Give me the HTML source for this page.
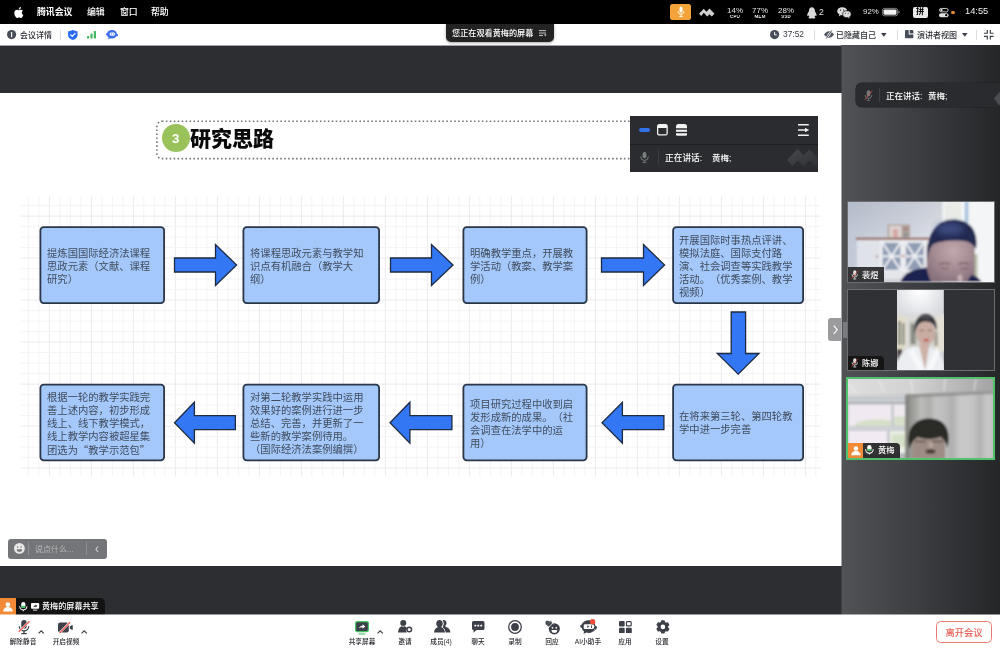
<!DOCTYPE html>
<html lang="zh-CN">
<head>
<meta charset="utf-8">
<title>腾讯会议</title>
<style>
*{box-sizing:border-box;margin:0;padding:0}
html,body{width:1000px;height:650px;overflow:hidden;background:#2d2e32}
body{position:relative;font-family:"Liberation Sans","Noto Sans CJK SC",sans-serif;color:#222;-webkit-font-smoothing:antialiased}
.abs{position:absolute}
.t{position:absolute;white-space:nowrap;line-height:1;will-change:transform}
.box>div{will-change:transform;position:relative}
svg{position:absolute;overflow:visible}
.cjk{font-family:"Noto Sans CJK SC",sans-serif}

/* ---------- mac menubar ---------- */
#menubar{position:absolute;left:0;top:0;width:1000px;height:24px;background:#000}
#menubar .t{color:#fff;font-size:8.900px;top:8.200px}
#menubar .st{font-size:7.9px;top:6.6px;color:#e8e8e8;transform:translateX(-50%)}
#menubar .sm{font-size:9.2px;top:12px;color:#e6e6e6;transform:translateX(-50%) scale(.5);font-weight:700;letter-spacing:.3px}
/* ---------- meeting top toolbar ---------- */
#topbar{position:absolute;left:0;top:24px;width:1000px;height:22px;background:linear-gradient(to bottom,#fff 0,#fff 21px,#a2a3a5 21px,#a2a3a5 22px)}
#topbar .t{font-size:8px;font-weight:500;color:#2b2d33;top:7.500px}
.vsep{position:absolute;width:1px;background:#dcdde0}
/* ---------- slide ---------- */
#slide{position:absolute;left:0;top:93px;width:841px;height:473px;background:#fff;overflow:hidden}
.box{position:absolute;display:flex;align-items:center;
 padding-left:7.2px;font-size:10.32px;line-height:13px;color:#414c5f;white-space:nowrap;text-spacing-trim:space-all}
/* ---------- sidebar ---------- */
#side{position:absolute;left:841px;top:45px;width:159px;height:569px;
 background:linear-gradient(to right,#525357 0,#494a4e 20%,#3c3d41 50%,#2e2f32 80%,#252628 100%)}
#seam{position:absolute;left:841px;top:46px;width:1px;height:568px;background:linear-gradient(to bottom,#404145 0,#404145 47px,#a8a9ab 47px,#a8a9ab 520px,#404145 520px)}
.tile{position:absolute;left:6px;width:148px;overflow:hidden;background:#303135;border:1px solid #6d6e72}
.nm{position:absolute;left:0;bottom:0;height:14.2px;font-weight:500;background:rgba(20,20,20,.88);border-top-right-radius:4px;color:#fff;font-size:8.2px}
/* ---------- bottom toolbar ---------- */
#bottombar{position:absolute;left:0;top:614px;width:1000px;height:36px;background:#fff}
#bottombar .t{font-size:6.7px;font-weight:500;color:#24262b;top:24.7px;transform:translateX(-50%)}
</style>
</head>
<body>

<!-- ================= macOS menubar ================= -->
<div id="menubar">
  <svg style="left:13.5px;top:6.5px" width="9.6" height="11" viewBox="0 0 814 1000"><path fill="#fff" d="M788 341c-6 4-108 62-108 190 0 148 130 201 134 202-1 3-21 72-69 143-43 62-88 124-157 124s-86-40-165-40c-77 0-105 41-168 41s-107-57-157-128C40 790 0 664 0 544c0-192 125-294 248-294 65 0 120 43 161 43 39 0 100-46 174-46 28 0 129 3 205 94zM554 159c31-37 53-88 53-139 0-7-1-14-2-20-50 2-110 33-146 75-28 32-55 83-55 135 0 8 1 16 2 18 3 1 8 2 13 2 45 0 102-30 135-71z"/></svg>
  <span class="t" style="left:36.5px;font-weight:700">腾讯会议</span>
  <span class="t" style="left:87px;font-weight:500">编辑</span>
  <span class="t" style="left:119.5px;font-weight:500">窗口</span>
  <span class="t" style="left:151px;font-weight:500">帮助</span>

  <!-- orange mic -->
  <div class="abs" style="left:670px;top:4px;width:21px;height:16px;border-radius:2.5px;background:#f2a43a"></div>
  <svg style="left:676.5px;top:6.3px" width="8" height="11.5" viewBox="0 0 16 23"><rect x="5" y="1" width="6" height="12" rx="3" fill="#fff"/><path d="M2 10.5a6 6 0 0 0 12 0" fill="none" stroke="#fff" stroke-width="1.7"/><path d="M8 16.5v4M4.5 21h7" stroke="#fff" stroke-width="1.7" fill="none"/></svg>
  <!-- mountain logo -->
  <svg style="left:699px;top:7.6px" width="15.5" height="8.8" viewBox="0 0 31 17.6"><path fill="#cfcfcf" d="M0 11.5 9.5 1.5 15 7.5 21 1 31 11.5 25.5 17 21 12.5 16.5 17 9.5 9.5 4.5 16z"/></svg>
  <span class="t st" style="left:735.2px">14%</span><span class="t sm" style="left:735.2px">CPU</span>
  <span class="t st" style="left:760.2px">77%</span><span class="t sm" style="left:760.2px">MEM</span>
  <span class="t st" style="left:785.5px">28%</span><span class="t sm" style="left:785.5px">SSD</span>
  <!-- QQ penguin -->
  <svg style="left:807.3px;top:6.6px" width="9.8" height="11.6" viewBox="0 0 20 23"><path fill="#d9d9d9" d="M10 0C6.2 0 4 2.8 4 6.6c0 .9 0 1.700-.3 2.500C2.300 11.300.5 14.200.5 16.700c0 1.300.5 1.800 1 1.700.6-.1 1.300-1.200 1.700-1.900.3 1.200.9 2.300 1.700 3.200-1 .4-1.900 1-1.900 1.800 0 1.100 1.900 1.500 4 1.500 1.300 0 2.400-.2 3-.6.600.4 1.700.6 3 .6 2.100 0 4-.4 4-1.500 0-.8-.9-1.400-1.900-1.800.8-.9 1.400-2 1.700-3.200.4.700 1.100 1.800 1.700 1.900.5.100 1-.4 1-1.700 0-2.500-1.800-5.400-3.200-7.600-.3-.8-.3-1.600-.3-2.500C16 2.800 13.800 0 10 0z"/></svg>
  <span class="t" style="left:819.3px;top:7.5px;font-size:8.6px;color:#e4e4e4">2</span>
  <!-- wechat -->
  <svg style="left:837px;top:6.8px" width="14.4" height="11.4" viewBox="0 0 29 23"><ellipse cx="10.5" cy="8.500" rx="10" ry="8.200" fill="#dcdcdc"/><path d="M4.500 14.500 3.500 19l4.500-2.800z" fill="#dcdcdc"/><ellipse cx="20" cy="14.500" rx="8.500" ry="7" fill="#dcdcdc" stroke="#000" stroke-width="1.400"/><path d="M24.500 20l1.200 3-3.800-2z" fill="#dcdcdc"/><circle cx="7" cy="6.300" r="1.200" fill="#000"/><circle cx="13.500" cy="6.300" r="1.200" fill="#000"/><circle cx="17.200" cy="12.800" r="1" fill="#000"/><circle cx="22.600" cy="12.800" r="1" fill="#000"/></svg>
  <span class="t" style="left:862.6px;top:8.2px;font-size:7.9px;color:#e6e6e6">92%</span>
  <!-- battery -->
  <svg style="left:881.8px;top:8.2px" width="18" height="8.200" viewBox="0 0 36 16.400"><rect x=".8" y=".8" width="30.500" height="14.800" rx="4" fill="none" stroke="#9a9a9a" stroke-width="1.600"/><rect x="3" y="3" width="26" height="10.400" rx="2.200" fill="#f2f2f2"/><path d="M33 5.500c1.600.4 2.400 1.400 2.400 2.700s-.8 2.300-2.400 2.700z" fill="#9a9a9a"/></svg>
  <!-- input method -->
  <div class="abs" style="left:913px;top:7px;width:15px;height:10.500px;border-radius:2px;background:#e9e9e9"></div>
  <span class="t" style="left:916.4px;top:8.100px;font-size:8.200px;color:#000;font-weight:700">拼</span>
  <!-- control centre -->
  <svg style="left:938.8px;top:7.600px" width="9.600" height="9.200" viewBox="0 0 19.200 18.400"><rect x=".9" y=".9" width="17.400" height="6.800" rx="3.400" fill="none" stroke="#e0e0e0" stroke-width="1.800"/><circle cx="5" cy="4.300" r="2.300" fill="#e0e0e0"/><rect x="0" y="10.400" width="19.200" height="8" rx="4" fill="#e0e0e0"/><circle cx="14.600" cy="14.400" r="2.300" fill="#000"/></svg>
  <div class="abs" style="left:951.3px;top:10.500px;width:3.400px;height:3.400px;border-radius:50%;background:#e8902c"></div>
  <span class="t" style="left:964.5px;top:7.400px;font-size:9.300px;color:#f0f0f0">14:55</span>
</div>

<!-- ================= top toolbar ================= -->
<div id="topbar">
  <!-- info -->
  <svg style="left:6.800px;top:6.200px" width="9.200" height="9.200" viewBox="0 0 18 18"><circle cx="9" cy="9" r="9" fill="#474c59"/><rect x="7.800" y="3.800" width="2.400" height="10.400" rx="1" fill="#fff"/></svg>
  <span class="t" style="left:20px">会议详情</span>
  <div class="vsep" style="left:60px;top:6px;height:9.500px"></div>
  <!-- shield -->
  <svg style="left:68px;top:5.800px" width="9.600" height="10" viewBox="0 0 19 20"><path d="M9.500 0 19 2.800v7.700c0 4.600-3.800 7.800-9.500 9.500C3.800 18.300 0 15.100 0 10.500V2.800z" fill="#2c6cf2"/><path d="M5.200 9.600 8.500 12.800 14 6.800" fill="none" stroke="#fff" stroke-width="2.300" stroke-linecap="round" stroke-linejoin="round"/></svg>
  <!-- signal -->
  <svg style="left:87px;top:7px" width="9" height="7.600" viewBox="0 0 18 15"><rect x="0" y="10" width="4.400" height="5" rx=".8" fill="#43b864"/><rect x="6.800" y="5" width="4.400" height="10" rx=".8" fill="#43b864"/><rect x="13.600" y="0" width="4.400" height="15" rx=".8" fill="#43b864"/></svg>
  <!-- robot -->
  <svg style="left:106px;top:5.800px" width="12" height="9.600" viewBox="0 0 24 19"><path d="M12 0c5.300 0 9.300 3.300 9.700 7.600 1.400.2 2.300 1.200 2.300 2.500 0 1.500-1.100 2.600-2.700 2.600-.3 0-.600 0-.9-.1C18.800 15.400 15.700 17 12 17c-1.400 0-2.700-.2-3.900-.6L4.500 19l.5-4.100C3.600 13.800 2.700 12.500 2.400 11 1 10.800 0 9.700 0 8.400 0 7 1 6 2.400 5.800 3.300 2.400 7.200 0 12 0z" fill="#3a6cf0"/><rect x="7" y="4.800" width="11.500" height="6.600" rx="3.300" fill="#fff"/><path d="M10.300 6.300v3.600L13 8.100z" fill="#3a6cf0"/><circle cx="15.500" cy="8.100" r="1.100" fill="#3a6cf0"/></svg>
  <!-- centre pill -->
  <div class="abs" style="left:446px;top:0;width:108px;height:17.500px;background:#232323;border-radius:0 0 5px 5px;box-shadow:0 1px 3px rgba(0,0,0,.35)"></div>
  <span class="t" style="left:451.600px;top:6.100px;font-size:8.150px;font-weight:500;color:#fff">您正在观看黄梅的屏幕</span>
  <svg style="left:539px;top:5.600px" width="7.500" height="6.600" viewBox="0 0 15 13"><path d="M0 1.200h14M0 6h14M0 10.800h8" stroke="#e8e8e8" stroke-width="1.700" fill="none"/><path d="M10 8.800h5l-2.500 3.600z" fill="#e8e8e8"/></svg>
  <!-- clock -->
  <svg style="left:770px;top:6px" width="9.200" height="9.200" viewBox="0 0 18 18"><circle cx="9" cy="9" r="9" fill="#474c59"/><path d="M9 4v5.500h4.200" fill="none" stroke="#fff" stroke-width="1.900"/></svg>
  <span class="t" style="left:782.600px;top:6.400px;font-size:8.400px;color:#3a3d45">37:52</span>
  <div class="vsep" style="left:813.500px;top:6px;height:9.500px"></div>
  <!-- eye slash -->
  <svg style="left:823.500px;top:6.200px" width="10" height="9" viewBox="0 0 20 18"><path d="M1 9c2-3.600 5.200-5.600 9-5.600S17 5.400 19 9c-2 3.600-5.200 5.600-9 5.600S3 12.600 1 9z" fill="#474c59" stroke="#474c59" stroke-width="1.600"/><circle cx="10" cy="9" r="2.600" fill="none" stroke="#fff" stroke-width="1.100"/><path d="M15.500 1 4.500 17" stroke="#fff" stroke-width="4"/><path d="M15.500 1 4.500 17" stroke="#474c59" stroke-width="2"/></svg>
  <span class="t" style="left:836.200px">已隐藏自己</span>
  <svg style="left:880.600px;top:8.600px" width="5.600" height="3.800" viewBox="0 0 11 7.500"><path d="M0 0h11L5.500 7.500z" fill="#3a3d45"/></svg>
  <div class="vsep" style="left:896.500px;top:6px;height:9.500px"></div>
  <!-- layout icon -->
  <svg style="left:904.700px;top:6.300px" width="8.400" height="8.200" viewBox="0 0 17 16.500"><path d="M2 0h5.500v9H17v5.500a2 2 0 0 1-2 2H2a2 2 0 0 1-2-2V2a2 2 0 0 1 2-2z" fill="#474c59"/><path d="M9.500 0H15a2 2 0 0 1 2 2v5H9.500z" fill="#474c59"/></svg>
  <span class="t" style="left:917.200px">演讲者视图</span>
  <svg style="left:961.500px;top:8.600px" width="5.600" height="3.800" viewBox="0 0 11 7.500"><path d="M0 0h11L5.500 7.500z" fill="#3a3d45"/></svg>
  <div class="vsep" style="left:975.500px;top:6px;height:9.500px"></div>
  <!-- exit fullscreen -->
  <svg style="left:983.700px;top:5.700px" width="9.600" height="9.600" viewBox="0 0 19 19"><path d="M0 6.500h6.500V0M12.500 0v6.500H19M19 12.500h-6.500V19M6.500 19v-6.500H0" fill="none" stroke="#3a3d45" stroke-width="2.300"/></svg>
</div>

<!-- ================= slide ================= -->
<div id="slide">
  <svg id="grid" style="left:0;top:0" width="841" height="473" stroke-width="1" fill="none"><path d="M28.4 103V383.500" stroke="#f4f4f6"/><path d="M38.9 103V383.500" stroke="#f4f4f6"/><path d="M49.4 103V383.500" stroke="#ebebee"/><path d="M59.9 103V383.500" stroke="#f4f4f6"/><path d="M70.4 103V383.500" stroke="#f4f4f6"/><path d="M80.9 103V383.500" stroke="#f4f4f6"/><path d="M91.4 103V383.500" stroke="#ebebee"/><path d="M101.9 103V383.500" stroke="#f4f4f6"/><path d="M112.4 103V383.500" stroke="#f4f4f6"/><path d="M122.9 103V383.500" stroke="#f4f4f6"/><path d="M133.4 103V383.500" stroke="#ebebee"/><path d="M143.9 103V383.500" stroke="#f4f4f6"/><path d="M154.4 103V383.500" stroke="#f4f4f6"/><path d="M164.9 103V383.500" stroke="#f4f4f6"/><path d="M175.4 103V383.500" stroke="#ebebee"/><path d="M185.9 103V383.500" stroke="#f4f4f6"/><path d="M196.4 103V383.500" stroke="#f4f4f6"/><path d="M206.9 103V383.500" stroke="#f4f4f6"/><path d="M217.4 103V383.500" stroke="#ebebee"/><path d="M227.9 103V383.500" stroke="#f4f4f6"/><path d="M238.4 103V383.500" stroke="#f4f4f6"/><path d="M248.9 103V383.500" stroke="#f4f4f6"/><path d="M259.4 103V383.500" stroke="#ebebee"/><path d="M269.9 103V383.500" stroke="#f4f4f6"/><path d="M280.4 103V383.500" stroke="#f4f4f6"/><path d="M290.9 103V383.500" stroke="#f4f4f6"/><path d="M301.4 103V383.500" stroke="#ebebee"/><path d="M311.9 103V383.500" stroke="#f4f4f6"/><path d="M322.4 103V383.500" stroke="#f4f4f6"/><path d="M332.9 103V383.500" stroke="#f4f4f6"/><path d="M343.4 103V383.500" stroke="#ebebee"/><path d="M353.9 103V383.500" stroke="#f4f4f6"/><path d="M364.4 103V383.500" stroke="#f4f4f6"/><path d="M374.9 103V383.500" stroke="#f4f4f6"/><path d="M385.4 103V383.500" stroke="#ebebee"/><path d="M395.9 103V383.500" stroke="#f4f4f6"/><path d="M406.4 103V383.500" stroke="#f4f4f6"/><path d="M416.9 103V383.500" stroke="#f4f4f6"/><path d="M427.4 103V383.500" stroke="#ebebee"/><path d="M437.9 103V383.500" stroke="#f4f4f6"/><path d="M448.4 103V383.500" stroke="#f4f4f6"/><path d="M458.9 103V383.500" stroke="#f4f4f6"/><path d="M469.4 103V383.500" stroke="#ebebee"/><path d="M479.9 103V383.500" stroke="#f4f4f6"/><path d="M490.4 103V383.500" stroke="#f4f4f6"/><path d="M500.9 103V383.500" stroke="#f4f4f6"/><path d="M511.4 103V383.500" stroke="#ebebee"/><path d="M521.9 103V383.500" stroke="#f4f4f6"/><path d="M532.4 103V383.500" stroke="#f4f4f6"/><path d="M542.9 103V383.500" stroke="#f4f4f6"/><path d="M553.4 103V383.500" stroke="#ebebee"/><path d="M563.9 103V383.500" stroke="#f4f4f6"/><path d="M574.4 103V383.500" stroke="#f4f4f6"/><path d="M584.9 103V383.500" stroke="#f4f4f6"/><path d="M595.4 103V383.500" stroke="#ebebee"/><path d="M605.9 103V383.500" stroke="#f4f4f6"/><path d="M616.4 103V383.500" stroke="#f4f4f6"/><path d="M626.9 103V383.500" stroke="#f4f4f6"/><path d="M637.4 103V383.500" stroke="#ebebee"/><path d="M647.9 103V383.500" stroke="#f4f4f6"/><path d="M658.4 103V383.500" stroke="#f4f4f6"/><path d="M668.9 103V383.500" stroke="#f4f4f6"/><path d="M679.4 103V383.500" stroke="#ebebee"/><path d="M689.9 103V383.500" stroke="#f4f4f6"/><path d="M700.4 103V383.500" stroke="#f4f4f6"/><path d="M710.9 103V383.500" stroke="#f4f4f6"/><path d="M721.4 103V383.500" stroke="#ebebee"/><path d="M731.9 103V383.500" stroke="#f4f4f6"/><path d="M742.4 103V383.500" stroke="#f4f4f6"/><path d="M752.9 103V383.500" stroke="#f4f4f6"/><path d="M763.4 103V383.500" stroke="#ebebee"/><path d="M773.9 103V383.500" stroke="#f4f4f6"/><path d="M784.4 103V383.500" stroke="#f4f4f6"/><path d="M794.9 103V383.500" stroke="#f4f4f6"/><path d="M805.4 103V383.500" stroke="#ebebee"/><path d="M815.9 103V383.500" stroke="#f4f4f6"/><path d="M20.500 112.6H821" stroke="#f4f4f6"/><path d="M20.500 123.1H821" stroke="#ebebee"/><path d="M20.500 133.6H821" stroke="#f4f4f6"/><path d="M20.500 144.1H821" stroke="#f4f4f6"/><path d="M20.500 154.6H821" stroke="#f4f4f6"/><path d="M20.500 165.1H821" stroke="#ebebee"/><path d="M20.500 175.6H821" stroke="#f4f4f6"/><path d="M20.500 186.1H821" stroke="#f4f4f6"/><path d="M20.500 196.6H821" stroke="#f4f4f6"/><path d="M20.500 207.1H821" stroke="#ebebee"/><path d="M20.500 217.6H821" stroke="#f4f4f6"/><path d="M20.500 228.1H821" stroke="#f4f4f6"/><path d="M20.500 238.6H821" stroke="#f4f4f6"/><path d="M20.500 249.1H821" stroke="#ebebee"/><path d="M20.500 259.6H821" stroke="#f4f4f6"/><path d="M20.500 270.1H821" stroke="#f4f4f6"/><path d="M20.500 280.6H821" stroke="#f4f4f6"/><path d="M20.500 291.1H821" stroke="#ebebee"/><path d="M20.500 301.6H821" stroke="#f4f4f6"/><path d="M20.500 312.1H821" stroke="#f4f4f6"/><path d="M20.500 322.6H821" stroke="#f4f4f6"/><path d="M20.500 333.1H821" stroke="#ebebee"/><path d="M20.500 343.6H821" stroke="#f4f4f6"/><path d="M20.500 354.1H821" stroke="#f4f4f6"/><path d="M20.500 364.6H821" stroke="#f4f4f6"/><path d="M20.500 375.1H821" stroke="#ebebee"/></svg>

  <svg style="left:0;top:0" width="841" height="100"><rect x="156.900" y="28.300" width="655" height="37.300" rx="5" fill="none" stroke="#72777f" stroke-width="1.600" stroke-dasharray="1.600 2.350"/></svg>
  <div class="abs" style="left:161.800px;top:30.800px;width:27.800px;height:27.800px;border-radius:50%;background:#9ac25a"></div>
  <span class="t" style="left:172.300px;top:38.600px;font-size:13.300px;font-weight:700;color:#fff">3</span>
  <span class="t" style="left:190.400px;top:35.200px;font-size:21px;font-weight:900;color:#0a0a0a">研究思路</span>
<svg style="left:0;top:0" width="841" height="473"><rect x="40.40" y="134.10" width="123.70" height="76.00" rx="3.300" fill="#a3c8f9" stroke="#2b3749" stroke-width="1.800"/><rect x="243.40" y="134.10" width="135.70" height="76.00" rx="3.300" fill="#a3c8f9" stroke="#2b3749" stroke-width="1.800"/><rect x="463.40" y="134.10" width="123.20" height="76.00" rx="3.300" fill="#a3c8f9" stroke="#2b3749" stroke-width="1.800"/><rect x="673.10" y="134.10" width="130.00" height="76.00" rx="3.300" fill="#a3c8f9" stroke="#2b3749" stroke-width="1.800"/><rect x="673.10" y="291.70" width="130.00" height="75.60" rx="3.300" fill="#a3c8f9" stroke="#2b3749" stroke-width="1.800"/><rect x="463.40" y="291.70" width="123.20" height="75.60" rx="3.300" fill="#a3c8f9" stroke="#2b3749" stroke-width="1.800"/><rect x="243.40" y="291.70" width="135.70" height="75.60" rx="3.300" fill="#a3c8f9" stroke="#2b3749" stroke-width="1.800"/><rect x="40.40" y="291.70" width="123.70" height="75.60" rx="3.300" fill="#a3c8f9" stroke="#2b3749" stroke-width="1.800"/></svg>
  <svg style="left:0;top:0" width="841" height="473"><path d="M174.5 165H215.5V151.5L236.6 172L215.5 192.5V179H174.5z" fill="#3377f4" stroke="#1e2a40" stroke-width="1.300" stroke-linejoin="miter"/><path d="M390.5 165H431.5V151.5L453 172L431.5 192.5V179H390.5z" fill="#3377f4" stroke="#1e2a40" stroke-width="1.300" stroke-linejoin="miter"/><path d="M601.5 165H643.5V151.5L664.6 172L643.5 192.5V179H601.5z" fill="#3377f4" stroke="#1e2a40" stroke-width="1.300" stroke-linejoin="miter"/><path d="M663.9 322.7H622.4V309.2L602 329.7L622.4 350.2V336.7H663.9z" fill="#3377f4" stroke="#1e2a40" stroke-width="1.300" stroke-linejoin="miter"/><path d="M451.9 322.7H409.9V309.2L390 329.7L409.9 350.2V336.7H451.9z" fill="#3377f4" stroke="#1e2a40" stroke-width="1.300" stroke-linejoin="miter"/><path d="M235.4 322.7H194.4V309.2L174.5 329.7L194.4 350.2V336.7H235.4z" fill="#3377f4" stroke="#1e2a40" stroke-width="1.300" stroke-linejoin="miter"/><path d="M731.2 219H745.6V260.5H759L738.2 281.2L717.300 260.5H731.2z" fill="#3377f4" stroke="#1e2a40" stroke-width="1.300" stroke-linejoin="miter"/></svg>
  <div class="box" style="left:39.5px;top:133.2px;width:125.5px;height:77.8px"><div style="top:1.6px">提炼国国际经济法课程<br>思政元素（文献、课程<br>研究）</div></div>
  <div class="box" style="left:242.5px;top:133.2px;width:137.5px;height:77.8px"><div style="top:1.6px">将课程思政元素与教学知<br>识点有机融合（教学大<br>纲）</div></div>
  <div class="box" style="left:462.5px;top:133.2px;width:125px;height:77.8px"><div style="top:1.6px">明确教学重点，开展教<br>学活动（教案、教学案<br>例）</div></div>
  <div class="box" style="left:672.2px;top:133.2px;width:131.8px;height:77.8px"><div style="top:1.6px">开展国际时事热点评讲、<br>模拟法庭、国际支付路<br>演、社会调查等实践教学<br>活动。（优秀案例、教学<br>视频）</div></div>
  <div class="box" style="left:672.2px;top:290.8px;width:131.8px;height:77.4px"><div style="top:0.2px">在将来第三轮、第四轮教<br>学中进一步完善</div></div>
  <div class="box" style="left:462.5px;top:290.8px;width:125px;height:77.4px"><div style="top:1.2px">项目研究过程中收到启<br>发形成新的成果。（社<br>会调查在法学中的运<br>用）</div></div>
  <div class="box" style="left:242.5px;top:290.8px;width:137.5px;height:77.4px"><div style="top:1.2px">对第二轮教学实践中运用<br>效果好的案例进行进一步<br>总结、完善，并更新了一<br>些新的教学案例待用。<br>（国际经济法案例编撰）</div></div>
  <div class="box" style="left:39.5px;top:290.8px;width:125.5px;height:77.4px"><div style="top:1.2px">根据一轮的教学实践完<br>善上述内容，初步形成<br>线上、线下教学模式，<br>线上教学内容被超星集<br>团选为<span class="cjk">“</span>教学示范包<span class="cjk">”</span></div></div>
  <!-- floating mini panel -->
  <div class="abs" style="left:630.400px;top:23.200px;width:187.600px;height:55.400px;background:#2b2c30">
    <div class="abs" style="left:0;top:27.600px;width:100%;height:1.200px;background:#1d1e20"></div>
    <div class="abs" style="left:8.400px;top:11.800px;width:11px;height:4.400px;border-radius:2px;background:#3273ea"></div>
    <svg style="left:27.100px;top:7.800px" width="10.800" height="11.600" viewBox="0 0 21.600 23.200"><rect x="1.300" y="1.300" width="19" height="20.600" rx="3" fill="none" stroke="#f2f2f2" stroke-width="2.600"/><path d="M1.300 8V4.300a3 3 0 0 1 3-3h13a3 3 0 0 1 3 3V8z" fill="#f2f2f2"/></svg>
    <svg style="left:45.600px;top:7.600px" width="11" height="12" viewBox="0 0 22 24"><path d="M0 8.600V5a5 5 0 0 1 5-5h12a5 5 0 0 1 5 5v3.600z" fill="#f2f2f2"/><rect x="0" y="11.400" width="22" height="4.200" fill="#f2f2f2"/><path d="M0 18.600h22V21a2.600 2.600 0 0 1-2.600 2.600H2.600A2.600 2.600 0 0 1 0 21z" fill="#f2f2f2"/></svg>
    <svg style="left:167.600px;top:7.800px" width="11.200" height="12" viewBox="0 0 22.400 24"><path d="M0 1.600h21.600M0 12h14M0 22.400h21.600" stroke="#f2f2f2" stroke-width="3.200" fill="none"/><path d="M14 7.400 22.400 12 14 16.600z" fill="#f2f2f2"/></svg>
    <svg style="left:9.600px;top:36.300px" width="9" height="10.800" viewBox="0 0 18 21.600"><rect x="5.200" y="0" width="7.600" height="12.500" rx="3.800" fill="#77807b"/><path d="M1.200 9a7.800 7.800 0 0 0 15.600 0" fill="none" stroke="#77807b" stroke-width="1.900"/><path d="M9 16.800v3M5 20.600h8" stroke="#77807b" stroke-width="1.900" fill="none"/></svg>
    <div class="abs" style="left:27.200px;top:33.800px;width:1.200px;height:15.400px;background:#3c3d41"></div>
    <span class="t" style="left:34.600px;top:37.900px;font-size:8.700px;font-weight:500;color:#fff">正在讲话:</span>
    <span class="t" style="left:81.300px;top:37.900px;font-size:8.500px;font-weight:500;color:#fff">黄梅;</span>
    <svg style="left:157px;top:33px" width="30.600" height="17.600" viewBox="0 0 61 35"><defs><linearGradient id="wm" x1="0" y1="0" x2="1" y2="1"><stop offset="0" stop-color="#47484c"/><stop offset="1" stop-color="#303134"/></linearGradient></defs><path d="M0 22 21 0 33 12.500 45 1 61 18V35H57L45 23 33 35 21.500 23.500 11 34z" fill="url(#wm)"/></svg>
  </div>
  <!-- chat input -->
  <div class="abs" style="left:8px;top:445.800px;width:98.500px;height:20.200px;border-radius:3px;background:#747578">
    <svg style="left:5.600px;top:4.600px" width="10.800" height="10.800" viewBox="0 0 22 22"><circle cx="11" cy="11" r="11" fill="#e9e9e9"/><circle cx="7.500" cy="8" r="1.500" fill="#76777a"/><circle cx="14.500" cy="8" r="1.500" fill="#76777a"/><path d="M5.500 12.500h11a5.500 5.500 0 0 1-11 0z" fill="#76777a"/></svg>
    <div class="abs" style="left:20.300px;top:3.500px;width:1px;height:13px;background:#8e8f92"></div>
    <span class="t" style="left:26.800px;top:6.800px;font-size:8px;color:#b9babc">说点什么...</span>
    <div class="abs" style="left:78.200px;top:3.500px;width:1px;height:13px;background:#8e8f92"></div>
    <svg style="left:86.500px;top:7px" width="3.600" height="6.400" viewBox="0 0 7 13"><path d="M6 1 1.500 6.500 6 12" fill="none" stroke="#f0f0f0" stroke-width="2"/></svg>
  </div>
</div>

<!-- ================= sidebar ================= -->
<div id="side">
  <!-- speaking pill -->
  <div class="abs" style="left:15px;top:38px;width:160px;height:24.400px;border-radius:6px;background:#2a2b2e;box-shadow:0 0 0 .6px #1f2022">
    <svg style="left:7.600px;top:6.600px" width="9" height="10.800" viewBox="0 0 18 21.600"><rect x="5.400" y=".5" width="7.200" height="12.500" rx="3.600" fill="#77787b"/><path d="M2.200 10a6.800 6.800 0 0 0 13.600 0" fill="none" stroke="#77787b" stroke-width="1.700"/><path d="M9 16.800v3M5.500 20.600h7" stroke="#77787b" stroke-width="1.700" fill="none"/><path d="M16.600 1.500 1.500 19.500" stroke="#d8574d" stroke-width="1.600"/></svg>
    <div class="abs" style="left:23px;top:5px;width:1.200px;height:14px;background:#3f4044"></div>
    <span class="t" style="left:30px;top:8.900px;font-size:8.500px;font-weight:500;color:#fff">正在讲话:</span>
    <span class="t" style="left:72.200px;top:8.900px;font-size:8.500px;font-weight:500;color:#fff">黄梅;</span>
    <svg style="left:137.500px;top:9px" width="8" height="13" viewBox="0 0 16 26"><path d="M0 13 11 0 16 5V26H10z" fill="#4c4d51"/></svg>
  </div>
  <!-- collapse handle -->
  <div class="abs" style="left:-13px;top:273.200px;width:14px;height:22.600px;border-radius:3px 0 0 3px;background:#9b9b9d"></div>
  <svg style="left:-8.200px;top:279.800px" width="5.200" height="9.600" viewBox="0 0 10.400 19.200"><path d="M1.400 1.400 8.600 9.600 1.400 17.800" fill="none" stroke="#fff" stroke-width="2.200"/></svg>
  <div class="abs" style="left:2px;top:276.500px;width:1.700px;height:16.500px;background:#7b7c80"></div>
  <div class="abs" style="left:4.200px;top:276.500px;width:1.700px;height:16.500px;background:#7b7c80"></div>

  <!-- tile 1 -->
  <div class="tile" style="top:155.500px;height:82px">
    <svg style="left:0;top:0;overflow:hidden" width="146" height="80" viewBox="0 0 146 80">
      <defs><filter id="b1" x="-20%" y="-20%" width="140%" height="140%"><feGaussianBlur stdDeviation="0.900"/></filter><filter id="b1b" x="-50%" y="-50%" width="200%" height="200%"><feGaussianBlur stdDeviation="3"/></filter>
      <linearGradient id="w1" x1="0" x2="1"><stop offset="0" stop-color="#bdc5d3"/><stop offset=".45" stop-color="#cfd4de"/><stop offset=".7" stop-color="#dde0e7"/><stop offset="1" stop-color="#e6e8ec"/></linearGradient>
      <linearGradient id="wv1" x1="0" y1="0" x2="0" y2="1"><stop offset="0" stop-color="#000" stop-opacity=".05"/><stop offset=".4" stop-color="#fff" stop-opacity=".06"/><stop offset="1" stop-color="#fff" stop-opacity=".1"/></linearGradient>
      <radialGradient id="f1" cx=".55" cy=".35" r=".7"><stop offset="0" stop-color="#c0a8ad"/><stop offset=".5" stop-color="#a88e95"/><stop offset="1" stop-color="#87707c"/></radialGradient></defs>
      <rect width="146" height="80" fill="url(#w1)"/><rect width="146" height="80" fill="url(#wv1)"/>
      <g filter="url(#b1)">
      <rect x="94.500" y="-2" width="55" height="84" fill="#f3f5f7"/>
      <rect x="97" y="0" width="16" height="22" fill="#e8ebe6"/>
      <rect x="116.800" y="-1" width="3.600" height="22" fill="#a8c2de"/>
      <rect x="126" y="52" width="3.500" height="28" fill="#b5c0a6"/>
      <rect x="39.500" y="22.400" width="22.500" height="13.400" fill="#b3a7a3"/>
      <rect x="41.500" y="24" width="12" height="11" fill="#dcd3d0"/>
      <rect x="45" y="27" width="5" height="8" fill="#d5a8a6"/>
      <rect x="55" y="24.500" width="5.500" height="5" fill="#a78f86"/>
      <rect x="55" y="31" width="5.500" height="4" fill="#8f9492"/>
      <rect x="9" y="37" width="71" height="34" fill="#eceef1"/><rect x="9" y="38" width="23" height="33" fill="#dfe3e9"/>
      <rect x="8" y="36" width="73" height="1.800" fill="#8a4a3e"/>
      <rect x="34.700" y="40.800" width="17.600" height="27" fill="#8f9cb4"/>
      <rect x="57.900" y="40.800" width="17.600" height="27" fill="#8f9cb4"/>
      <path d="M34.700 40.800 52.300 67.800M52.300 40.800 34.700 67.800M57.900 40.800 75.500 67.800M75.500 40.800 57.900 67.800M34.700 54.300h17.600M57.900 54.300h17.600" stroke="#f0f1f4" stroke-width="2"/>
      <circle cx="29" cy="54.500" r=".9" fill="#8a3030"/><circle cx="54.200" cy="54" r=".8" fill="#8a3030"/><circle cx="56.300" cy="54" r=".8" fill="#8a3030"/>
      <rect x="0" y="70.500" width="82" height="10" fill="#cdd0d7"/>
      <rect x="36" y="71" width="30" height="6" fill="#e4e6ea"/>
      <path d="M78.700 80V46c0-8 6-13 24-13s24 5 24 13v34z" fill="url(#f1)"/>
      <path d="M79.500 58c-2-26 10-40.500 26-40.500s25.500 11 22.500 29.500c-3-5-7-7.500-12-8-10-1-24-.5-31 3.500-3 2.500-4.500 8-5.500 15.500z" fill="#222950"/>
      <ellipse cx="102" cy="27" rx="14" ry="6" fill="#4a5a96" opacity=".7" filter="url(#b1b)"/>
      <path d="M91 62.500c4-1.600 8-1.600 11.500-.4M110.500 62c4-1.500 8-1.300 11.500.4" stroke="#6d555c" stroke-width="1.600" fill="none" opacity=".8"/>
      <path d="M93 66.500h8M112.500 66.500h8" stroke="#6d555a" stroke-width="1.200"/>
      <ellipse cx="112" cy="76" rx="2.600" ry="3.600" fill="#cdb5b8" opacity=".9"/>
      <path d="M52.500 80c3-9 12-13 26-14.500 1 5 2.500 10 4.500 14.500z" fill="#1b2050"/>
      <path d="M119.500 80c1-3 2.500-5.500 4.500-7 4 .8 7.500 3.500 9.500 7z" fill="#1b2050"/>
      </g>
    </svg>
    <div class="nm" style="width:36px;border-radius:0;background:rgba(35,35,38,.9)">
      <svg style="left:2.500px;top:2.500px" width="7.500" height="9.500" viewBox="0 0 15 19"><rect x="4.500" y=".5" width="6" height="10.500" rx="3" fill="#e8e8e8"/><path d="M2 8.500a5.500 5.500 0 0 0 11 0" fill="none" stroke="#e8e8e8" stroke-width="1.500"/><path d="M7.500 14v3.500M4.500 18h6" stroke="#e8e8e8" stroke-width="1.500" fill="none"/><path d="M13.500 1.500 1.500 17" stroke="#e0453a" stroke-width="1.500"/></svg>
      <span class="t" style="left:14.200px;top:4.300px">裴煜</span>
    </div>
  </div>

  <!-- tile 2 -->
  <div class="tile" style="top:243.500px;height:82.500px">
    <svg style="left:49.200px;top:0;overflow:hidden" width="46.600" height="81" viewBox="0 0 46.600 81">
      <defs><filter id="b2" x="-20%" y="-20%" width="140%" height="140%"><feGaussianBlur stdDeviation="0.800"/></filter>
      <radialGradient id="w2" cx=".48" cy="0" r=".8" gradientTransform="scale(1 .62)"><stop offset="0" stop-color="#ffffff"/><stop offset=".3" stop-color="#f1f2f4"/><stop offset=".65" stop-color="#dddfe3"/><stop offset="1" stop-color="#d2d4d8"/></radialGradient></defs>
      <rect width="46.600" height="81" fill="#d4d6da"/>
      <rect width="46.600" height="81" fill="url(#w2)"/>
      <g filter="url(#b2)">
      <rect x="-1" y="24" width="50" height="36" fill="#dcdcda"/>
      <rect x="0" y="27" width="9" height="32" fill="#e2dcc8"/>
      <rect x="1.200" y="31" width="2.600" height="24" fill="#84877f"/><rect x="5" y="33" width="2.600" height="22" fill="#8f928a"/>
      <rect x="12.500" y="31" width="8" height="28" fill="#c4c4bc"/>
      <rect x="13.500" y="34" width="5" height="20" fill="#8a8d86"/>
      <rect x="38" y="26" width="9" height="36" fill="#e4e0d6"/>
      <rect x="37" y="42" width="4" height="14" fill="#a9a59a"/>
      <rect x="0" y="59" width="5" height="12" fill="#51474a"/>
      <path d="M-1 82c0-14 6-22 17-25.500l14 0c11 3.500 17.600 11.500 17.600 25.500z" fill="#eceef2"/>
      <path d="M21.500 54h11l-1 6-3.300 20-5-20z" fill="#ccb1a6"/>
      <path d="M16 58 28 80 21 80 12 62zM39 58 29 80 35 80 43 62z" fill="#f7f8fa"/>
      <ellipse cx="28.600" cy="43" rx="9.600" ry="12.600" fill="#c9ada3"/>
      <path d="M17.600 44c-1.500-13 4-19.800 11.200-19.800s12.400 6 10.800 17.800c-1.500-7-5-10.500-11-10.500s-9 4-11 12.500z" fill="#34343a"/>
      <ellipse cx="28.800" cy="26.500" rx="6" ry="2.600" fill="#4e4e55"/>
      <path d="M22.500 40.500h4.500M30.500 40.500h4.500" stroke="#6e5a55" stroke-width="1"/>
      <ellipse cx="29.200" cy="50.200" rx="2.700" ry="1.100" fill="#c9382f"/>
      </g>
    </svg>
    <div class="nm" style="width:36px;background:#151516">
      <svg style="left:2.500px;top:2.500px" width="7.500" height="9.500" viewBox="0 0 15 19"><rect x="4.500" y=".5" width="6" height="10.500" rx="3" fill="#e8e8e8"/><path d="M2 8.500a5.500 5.500 0 0 0 11 0" fill="none" stroke="#e8e8e8" stroke-width="1.500"/><path d="M7.500 14v3.500M4.500 18h6" stroke="#e8e8e8" stroke-width="1.500" fill="none"/><path d="M13.500 1.500 1.500 17" stroke="#e0453a" stroke-width="1.500"/></svg>
      <span class="t" style="left:14.200px;top:4.300px">陈娜</span>
    </div>
  </div>

  <!-- tile 3 -->
  <div class="tile" style="left:5px;width:149px;top:331.500px;height:83px;border:2px solid #4fc26b">
    <svg style="left:0;top:0;overflow:hidden" width="146" height="80" viewBox="0 0 146 80">
      <defs><filter id="b3" x="-20%" y="-20%" width="140%" height="140%"><feGaussianBlur stdDeviation="0.800"/></filter>
      <linearGradient id="c3" x1="0" x2="1"><stop offset="0" stop-color="#dedede"/><stop offset=".45" stop-color="#d2d2d2"/><stop offset=".8" stop-color="#b4b4b4"/><stop offset="1" stop-color="#a3a3a3"/></linearGradient>
      <linearGradient id="k3" x1="0" x2="1"><stop offset="0" stop-color="#8b8b87"/><stop offset=".1" stop-color="#a3a3a0"/><stop offset=".17" stop-color="#bcbcba"/><stop offset=".26" stop-color="#adadab"/><stop offset=".34" stop-color="#c4c4c4"/><stop offset=".46" stop-color="#bababa"/><stop offset=".52" stop-color="#afafaf"/><stop offset=".62" stop-color="#c9c9c9"/><stop offset=".76" stop-color="#c5c5c5"/><stop offset=".84" stop-color="#b2b2b2"/><stop offset=".92" stop-color="#c8c8c8"/><stop offset="1" stop-color="#bfbfbf"/></linearGradient></defs>
      <rect width="146" height="80" fill="url(#c3)"/>
      <g filter="url(#b3)">
      <path d="M30 0 36.500 13M1 5 8 14M63 0 64.500 14M97 0 96 12M128 0 126 11" stroke="#f4f4f4" stroke-width=".8" fill="none"/>
      <path d="M58 15.500 146 11.500V80H58z" fill="url(#k3)"/>
      <path d="M-1 16.500 60 15.500V80H-1z" fill="#b5b8bc"/>
      <path d="M-1 17.500h60M-1 21h60" stroke="#dcdfe2" stroke-width="1.600"/>
      <rect x=".5" y="25.500" width="43" height="21.500" fill="#f0e9f1"/>
      <rect x="46" y="25.500" width="12" height="21.500" fill="#eee9ee"/>
      <rect x=".5" y="52" width="38.500" height="24" fill="#f2eaf3"/>
      <rect x="41.500" y="52" width="15.500" height="22" fill="#eaefe6"/>
      <path d="M8 44c8-3 16-4 26-3.500l9 1V47H6z" fill="#cfdcbb" opacity=".8"/>
      <path d="M46 38c4-1 8-1 12 0v9H46zM44 56c4-1.500 9-1.500 13 0v12H44z" fill="#cddbbd" opacity=".75"/>
      <rect x="-1" y="47.200" width="60" height="4.600" fill="#cfd2d6"/>
      <path d="M44.800 25V47M40.200 52V78" stroke="#c6c9cd" stroke-width="2.400"/>
      <rect x="57" y="16" width="4.500" height="64" fill="#868682"/><path d="M58 15.500 146 11.500V15L58 19z" fill="#8e8e8c" opacity=".8"/>
      <path d="M64.500 80V62c0-7 5-10 16.500-10s16 3 16 10v18z" fill="#9c8c85"/>
      <path d="M61.500 70c-4.500-20 5-30.500 19.500-30.500S104 49 99.500 69c-2.500-10-7.500-13.500-18.500-13.500S64.500 60 61.500 70z" fill="#2a2926"/>
      <ellipse cx="81" cy="50.500" rx="17" ry="9.500" fill="#2a2926"/>
      <path d="M67 62.500h11M84 62.500h11" stroke="#5f534e" stroke-width="1.300"/>
      <ellipse cx="83" cy="66" rx="2.500" ry="3" fill="#b3a39b"/>
      <ellipse cx="82.500" cy="72.500" rx="5" ry="2.200" fill="#4a3a37"/>
      </g>
    </svg>
    <div class="abs" style="left:0;bottom:0;width:15px;height:14.800px;background:#f08a36"></div>
    <svg style="left:2.600px;top:67.600px" width="9.800" height="9.400" viewBox="0 0 20 19"><circle cx="10" cy="5" r="4.700" fill="#fff"/><path d="M0 19c1-6.500 5-9 10-9s9 2.500 10 9z" fill="#fff"/></svg>
    <div class="nm" style="left:15px;width:37px;height:14.800px;background:rgba(34,34,36,.92)">
      <svg style="left:2.200px;top:2.600px" width="8.800" height="9.600" viewBox="0 0 17.200 18.800"><rect x="4.400" y="0" width="8.400" height="12" rx="4.200" fill="#fff"/><rect x="4.400" y="7.600" width="8.400" height="4.400" rx="2.200" fill="#45c466"/><path d="M1.100 8.500a7.500 7.500 0 0 0 15 0" fill="none" stroke="#fff" stroke-width="2"/><path d="M8.600 15.500v3" stroke="#fff" stroke-width="2" fill="none"/></svg>
      <span class="t" style="left:15px;top:4.300px">黄梅</span>
    </div>
  </div>
</div>

<div id="seam"></div>
<!-- ================= bottom toolbar ================= -->

<!-- sharing label -->
<div class="abs" style="left:0;top:598px;width:16.300px;height:16px;background:#f08a36"></div>
<svg style="left:3.100px;top:601.500px" width="9.900" height="9.600" viewBox="0 0 20 19"><circle cx="10" cy="5" r="4.700" fill="#fff"/><path d="M0 19c1-6.500 5-9 10-9s9 2.500 10 9z" fill="#fff"/></svg>
<div class="abs" style="left:16.300px;top:598px;width:88.500px;height:16px;background:#131314;border-top-right-radius:5px"></div>
<svg style="left:18.900px;top:601.800px" width="8.600" height="9.400" viewBox="0 0 17.200 18.800"><rect x="4.400" y="0" width="8.400" height="12" rx="4.200" fill="#fff"/><rect x="4.400" y="7.600" width="8.400" height="4.400" rx="2.200" fill="#45c466"/><path d="M1.100 8.500a7.500 7.500 0 0 0 15 0" fill="none" stroke="#fff" stroke-width="2"/><path d="M8.600 15.500v3" stroke="#fff" stroke-width="2" fill="none"/></svg>
<svg style="left:30.800px;top:603.200px" width="8.200" height="7.600" viewBox="0 0 16.400 15.200"><rect x="0" y="0" width="16.400" height="11.600" rx="2" fill="#fff"/><path d="M4 14.200h8.400" stroke="#fff" stroke-width="1.800"/><path d="M4.800 8.300c.5-2.500 2-3.500 4.500-3.500V3l3.200 2.800-3.200 2.800V6.800c-1.800 0-3 .3-4.500 1.500z" fill="#131314"/></svg>
<span class="t" style="left:42px;top:603.400px;font-size:8.100px;font-weight:500;color:#fff">黄梅的屏幕共享</span>
<!-- half-pixel seam rows -->
<div class="abs" style="left:0;top:614px;width:1000px;height:1px;z-index:5;background:linear-gradient(to right,#f7c49a 0,#f7c49a 16.300px,#89898a 16.300px,#89898a 104.500px,#96979a 104.500px,#96979a 841px,#a7a8aa 841px,#919193 1000px)"></div>

<div id="bottombar">
  <!-- unmute -->
  <svg style="left:17.600px;top:5.600px" width="12" height="14.400" viewBox="0 0 24 28.800"><rect x="6.500" y="0" width="11" height="17.500" rx="5.500" fill="#3d4048"/><path d="M2.600 12.500a9.400 9.400 0 0 0 18.800 0" fill="none" stroke="#3d4048" stroke-width="2.600"/><path d="M12 22v5M6.500 27.400h11" stroke="#3d4048" stroke-width="2.600" fill="none"/><path d="M23 2.500 1.500 23.500" stroke="#fff" stroke-width="4.400"/><path d="M23 2.500 1.500 23.500" stroke="#ee4f45" stroke-width="2.300"/></svg>
  <svg class="caret" style="left:38px;top:16px" width="6.400" height="3.800" viewBox="0 0 13 7.700"><path d="M1.200 6.800 6.500 1.600 11.800 6.800" fill="none" stroke="#3d4048" stroke-width="2.500"/></svg>
  <span class="t" style="left:23.300px">解除静音</span>
  <!-- camera -->
  <svg style="left:58.200px;top:7.600px" width="15" height="11" viewBox="0 0 30 22"><rect x="0" y="1.200" width="21.600" height="19.600" rx="4.500" fill="#3d4048"/><path d="M23.500 9 27.500 6.300c1-.6 2 0 2 1.200v7c0 1.200-1 1.800-2 1.200L23.500 13z" fill="#3d4048"/><path d="M24.500 0 3 22" stroke="#fff" stroke-width="4.500"/><path d="M24.500 .3 3.300 22" stroke="#ee4f45" stroke-width="2.400"/></svg>
  <svg class="caret" style="left:81px;top:16px" width="6.400" height="3.800" viewBox="0 0 13 7.700"><path d="M1.200 6.800 6.500 1.600 11.800 6.800" fill="none" stroke="#3d4048" stroke-width="2.500"/></svg>
  <span class="t" style="left:66.300px">开启视频</span>
  <!-- share screen -->
  <svg style="left:355px;top:6.800px" width="14" height="13.500" viewBox="0 0 28 27"><rect x="1.200" y="1.200" width="25.600" height="20" rx="3.500" fill="#3d4048" stroke="#43c463" stroke-width="2.400"/><path d="M7.500 26h13" stroke="#43c463" stroke-width="2.200"/><path d="M8 15c.800-4 3.300-5.600 7-5.600V6.500l5.500 4.600-5.500 4.600v-3c-2.800 0-4.800.5-7 2.300z" fill="#fff"/></svg>
  <svg class="caret" style="left:377px;top:16px" width="6.400" height="3.800" viewBox="0 0 13 7.700"><path d="M1.200 6.800 6.500 1.600 11.800 6.800" fill="none" stroke="#3d4048" stroke-width="2.500"/></svg>
  <span class="t" style="left:362px">共享屏幕</span>
  <!-- invite -->
  <svg style="left:398px;top:6.300px" width="14.500" height="12.500" viewBox="0 0 29 25"><circle cx="10.500" cy="6" r="6" fill="#3d4048"/><path d="M0 25c.5-7 3-11 7.500-12.500 2 1.200 4 1.200 6 0 2 .7 3.500 2 4.500 4-2 2-2.500 5.500-.5 8.500z" fill="#3d4048"/><circle cx="22.500" cy="19" r="4.600" fill="none" stroke="#3d4048" stroke-width="3"/></svg>
  <span class="t" style="left:404.700px">邀请</span>
  <!-- members -->
  <svg style="left:433.500px;top:6.300px" width="16.500" height="12.500" viewBox="0 0 33 25"><path d="M19 0c3.500 0 6 2.600 6 6.200 0 2.400-1 4.500-2.600 5.800 0 1 .6 1.600 2 2.200 4.500 1.500 7.600 3.600 8.600 10.800H23c-.5-5-2.500-8.500-6-10.500 1.500-2 2.400-4.500 2.400-7.500 0-2.500-.8-4.800-2.200-6.500.6-.3 1.200-.5 1.800-.5z" fill="#3d4048"/><path d="M11 0c3.800 0 6.500 2.800 6.500 7 0 2.800-1.200 5.200-3 6.500 0 1 .6 1.600 2 2.200 3 1.300 4.800 4 5.500 9.300H0c.7-5.300 2.500-8 5.500-9.300 1.400-.6 2-1.200 2-2.200-1.800-1.300-3-3.700-3-6.500 0-4.200 2.700-7 6.500-7z" fill="#3d4048" stroke="#fff" stroke-width="1.500" paint-order="stroke"/></svg>
  <span class="t" style="left:441.200px">成员(4)</span>
  <!-- chat -->
  <svg style="left:472px;top:7px" width="12.500" height="11.800" viewBox="0 0 25 23.500"><path d="M3 0h19a3 3 0 0 1 3 3v12a3 3 0 0 1-3 3H9l-6 5.500V18a3 3 0 0 1-3-3V3a3 3 0 0 1 3-3z" fill="#3d4048"/><rect x="4.700" y="7.300" width="3.800" height="3.600" rx=".8" fill="#fff"/><rect x="10.600" y="7.300" width="3.800" height="3.600" rx=".8" fill="#fff"/><rect x="16.500" y="7.300" width="3.800" height="3.600" rx=".8" fill="#fff"/></svg>
  <span class="t" style="left:478.100px">聊天</span>
  <!-- record -->
  <svg style="left:508px;top:5.800px" width="14" height="14" viewBox="0 0 28 28"><circle cx="14" cy="14" r="12.600" fill="none" stroke="#3d4048" stroke-width="2.600"/><circle cx="14" cy="14" r="7.800" fill="#3d4048"/></svg>
  <span class="t" style="left:515.100px">录制</span>
  <!-- react -->
  <svg style="left:544.600px;top:5.600px" width="15" height="14.600" viewBox="0 0 30 29.200"><circle cx="18.600" cy="17.600" r="11.200" fill="#3d4048"/><path d="M1.800 2.200c2.200-2.400 5.400-2.200 6.800.2 2-1.600 5-.8 5.800 1.800.9 3-1.600 6.800-6.600 9.800C2.400 11.600-.6 7.400.1 4.400c.3-.9.900-1.600 1.700-2.200z" fill="#3d4048" stroke="#fff" stroke-width="1.600"/><path d="M3 6.500 8 3M4.500 9.500 11 5M7.500 11.500 12.500 8" stroke="#8a8c92" stroke-width="1"/><circle cx="15" cy="15.600" r="1.700" fill="#fff"/><circle cx="22.400" cy="15.600" r="1.700" fill="#fff"/><path d="M13 19.800h11.400a5.700 5.700 0 0 1-11.400 0z" fill="#fff"/></svg>
  <span class="t" style="left:551.500px">回应</span>
  <!-- AI -->
  <svg style="left:580px;top:5.400px" width="17.600" height="15" viewBox="0 0 35.200 30"><path d="M17.400 2.400c7.400 0 12.800 4.800 13.200 11 2 .3 3.400 1.600 3.400 3.500 0 2.100-1.500 3.600-3.700 3.600-.4 0-.8 0-1.100-.1C27.200 25.200 22.700 28 17.400 28c-1.900 0-3.700-.4-5.300-1L7.200 30l.8-5.400C5.600 22.800 4.200 20.400 4 17.800 1.800 17.600.4 16.200.4 14.400c0-1.900 1.300-3.200 3.300-3.500C5 6 10.500 2.400 17.400 2.400z" fill="#3d4048"/><path d="M10.400 10.600h13.800a4.600 4.600 0 0 1 4.600 4.600v.2a4.600 4.600 0 0 1-4.600 4.600H10.400a3 3 0 0 1-3-3v-3.400a3 3 0 0 1 3-3z" fill="#fff"/><path d="M14.600 12.400v5.600l4.300-2.800z" fill="#3d4048"/><rect x="22" y="12.400" width="2" height="5.400" rx="1" fill="#3d4048"/><path d="M31 17c.5 3-1 6-4.500 7.500" fill="none" stroke="#3d4048" stroke-width="1.600"/><circle cx="25.200" cy="5.600" r="5.400" fill="#ef4b3a"/></svg>
  <span class="t" style="left:588.200px">AI小助手</span>
  <!-- apps -->
  <svg style="left:619.300px;top:6.800px" width="12.800" height="12.200" viewBox="0 0 26 24.500"><rect x="0" y="0" width="11.500" height="11" rx="2" fill="#3d4048"/><rect x="15.200" y="1.200" width="9.500" height="8.600" rx="1.500" fill="none" stroke="#3d4048" stroke-width="2.400"/><rect x="0" y="13.500" width="11.500" height="11" rx="2" fill="#3d4048"/><rect x="14" y="13.500" width="12" height="11" rx="2" fill="#3d4048"/></svg>
  <span class="t" style="left:625px">应用</span>
  <!-- settings -->
  <svg style="left:655.500px;top:5.700px" width="13.800" height="13.800" viewBox="-13.800 -13.800 27.600 27.600"><g fill="#3d4048"><rect x="-3.900" y="-13.400" width="7.800" height="6" rx="2" transform="rotate(0)"/><rect x="-3.900" y="-13.400" width="7.800" height="6" rx="2" transform="rotate(60)"/><rect x="-3.900" y="-13.400" width="7.800" height="6" rx="2" transform="rotate(120)"/><rect x="-3.900" y="-13.400" width="7.800" height="6" rx="2" transform="rotate(180)"/><rect x="-3.900" y="-13.400" width="7.800" height="6" rx="2" transform="rotate(240)"/><rect x="-3.900" y="-13.400" width="7.800" height="6" rx="2" transform="rotate(300)"/></g><circle r="7.600" fill="none" stroke="#3d4048" stroke-width="6"/></svg>
  <span class="t" style="left:662px">设置</span>
  <!-- leave -->
  <div class="abs" style="left:936px;top:7px;width:56px;height:22px;border:1px solid #ec7a71;border-radius:4.500px"></div>
  <span class="t" style="left:964.200px;top:14.900px;font-size:9.300px;color:#e75d54">离开会议</span>
</div>


</body>
</html>
